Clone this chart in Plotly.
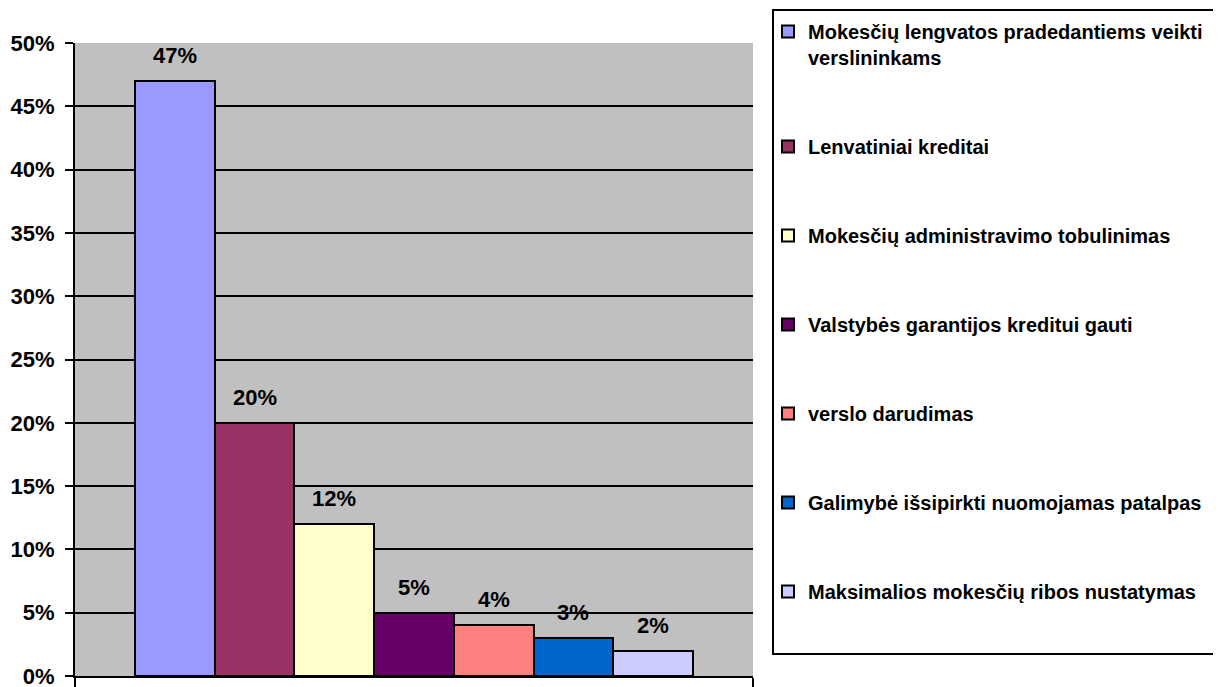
import plotly.graph_objects as go

categories = [
    "Mokesčių lengvatos pradedantiems veikti<br>verslininkams",
    "Lenvatiniai kreditai",
    "Mokesčių administravimo tobulinimas",
    "Valstybės garantijos kreditui gauti",
    "verslo darudimas",
    "Galimybė išsipirkti nuomojamas patalpas",
    "Maksimalios mokesčių ribos nustatymas",
]
values = [0.47, 0.20, 0.12, 0.05, 0.04, 0.03, 0.02]
labels = ["47%", "20%", "12%", "5%", "4%", "3%", "2%"]
colors = ["#9999FF", "#993366", "#FFFFCC", "#660066", "#FF8080", "#0066CC", "#CCCCFF"]

FONT = "Liberation Sans, Arial, sans-serif"
OFF = 8  # default page body margin
W, H = 1221 - OFF, 687 - OFF
L, R, T, B = 75 - OFF, 753 - OFF, 43 - OFF, 676 - OFF

fig = go.Figure()
for i, (name, v, c) in enumerate(zip(categories, values, colors)):
    fig.add_trace(go.Bar(
        x=[i], y=[v], width=1, name=name, legendgroup=f"g{i}",
        marker=dict(color=c, line=dict(color="black", width=2)),
        hoverinfo="name+y",
    ))
    fig.add_annotation(x=i, y=v, text=labels[i], showarrow=False,
                       yanchor="bottom", yshift=11,
                       font=dict(family=FONT, size=22, color="black", weight="bold"))

side = 0.754
xr = [-0.5 - side, len(values) - 0.5 + side]

def px_x(px):
    return (px - OFF - L) / (R - L)

def px_y(py):
    return (B - (py - OFF)) / (B - T)

fig.add_shape(type="rect", xref="paper", yref="paper",
              x0=px_x(773), x1=px_x(1220),
              y0=px_y(654), y1=px_y(10),
              line=dict(color="black", width=2), fillcolor="rgba(0,0,0,0)", layer="above")

fig.update_layout(
    width=W, height=H,
    margin=dict(l=L, r=W - R, t=T, b=H - B, pad=0, autoexpand=False),
    paper_bgcolor="white", plot_bgcolor="#C0C0C0",
    barmode="overlay", bargap=0,
    showlegend=True,
    legend=dict(
        x=px_x(768), y=px_y(12), xanchor="left", yanchor="top",
        bgcolor="rgba(0,0,0,0)", borderwidth=0,
        font=dict(family=FONT, size=20, color="black", weight="bold"),
        tracegroupgap=60, valign="top", traceorder="grouped",
        maxheight=660,
    ),
    xaxis=dict(range=xr, showgrid=False, zeroline=False, showline=True,
               linecolor="black", linewidth=2, tickvals=xr, ticks="outside",
               ticklen=12, tickwidth=2, tickcolor="black", showticklabels=False,
               fixedrange=True, automargin=False),
    yaxis=dict(range=[0, 0.5], dtick=0.05, tickformat=".0%", showgrid=True,
               gridcolor="black", gridwidth=2, zeroline=False, showline=True,
               linecolor="black", linewidth=2, ticks="outside", ticklen=8,
               tickwidth=2, tickcolor="black", ticklabelstandoff=6,
               ticklabeloverflow="allow",
               tickfont=dict(family=FONT, size=22, color="black", weight="bold"),
               fixedrange=True, automargin=False),
)

fig.write_html("out.html")
